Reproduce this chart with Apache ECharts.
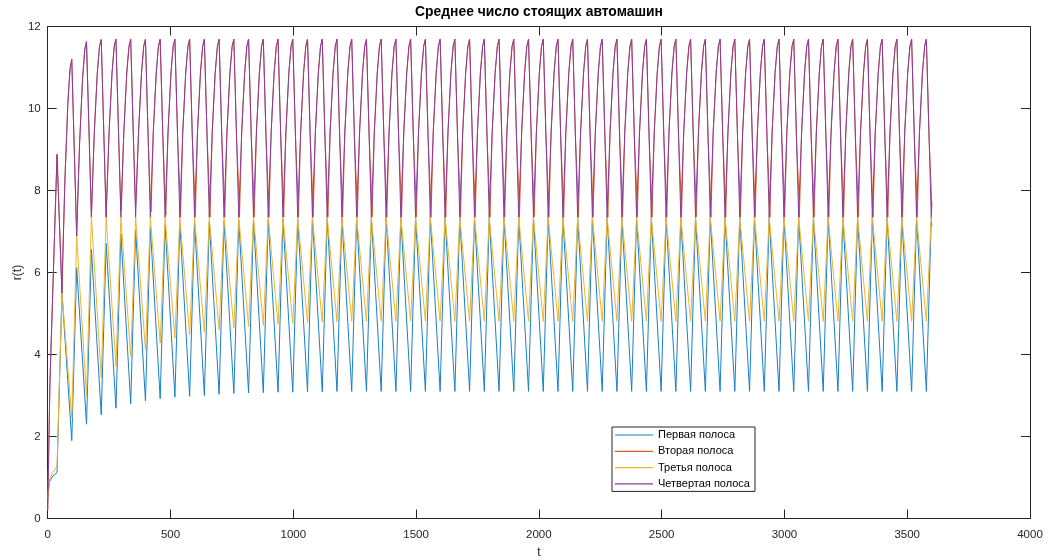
<!DOCTYPE html>
<html>
<head>
<meta charset="utf-8">
<script src="https://cdn.jsdelivr.net/npm/echarts@6/dist/echarts.min.js"></script>
<style>
html,body{margin:0;padding:0;background:#fff;}
#chart{width:1054px;height:560px;}
</style>
</head>
<body>
<div id="chart"></div>
<script>
// ---- Data ----
const chartTitle = 'Среднее число стоящих автомашин';
const seriesNames = ['Первая полоса', 'Вторая полоса', 'Третья полоса', 'Четвертая полоса'];
const xTicks = [0, 500, 1000, 1500, 2000, 2500, 3000, 3500, 4000];
const yTicks = [0, 2, 4, 6, 8, 10, 12];

// vertex times for lanes 1 and 3 (signal switch points)
const laneTimes = [0, 8, 20,
  38, 58, 98, 118, 158, 178, 218, 238, 278, 298, 338, 358, 398, 418, 458, 478, 518, 538, 578, 598,
  638, 658, 698, 718, 758, 778, 818, 838, 878, 898, 938, 958, 998, 1018, 1058, 1078, 1118, 1138, 1178, 1198,
  1238, 1258, 1298, 1318, 1358, 1378, 1418, 1438, 1478, 1498, 1538, 1558, 1598, 1618, 1658, 1678, 1718, 1738, 1778, 1798,
  1838, 1858, 1898, 1918, 1958, 1978, 2018, 2038, 2078, 2098, 2138, 2158, 2198, 2218, 2258, 2278, 2318, 2338, 2378, 2398,
  2438, 2458, 2498, 2518, 2558, 2578, 2618, 2638, 2678, 2698, 2738, 2758, 2798, 2818, 2858, 2878, 2918, 2938, 2978, 2998,
  3038, 3058, 3098, 3118, 3158, 3178, 3218, 3238, 3278, 3298, 3338, 3358, 3398, 3418, 3458, 3478, 3518, 3538, 3578, 3598,
  3600];

const lane1 = [0.50, 0.90, 1.03,
  1.12, 5.50, 1.90, 6.12, 2.30, 6.56, 2.53, 6.71, 2.69, 6.94, 2.80, 7.03, 2.87, 7.09, 2.92, 7.16, 2.96, 7.20, 2.98, 7.21,
  3.00, 7.23, 3.03, 7.25, 3.05, 7.27, 3.06, 7.28, 3.07, 7.29, 3.08, 7.30, 3.08, 7.31, 3.09, 7.32, 3.09, 7.32, 3.10, 7.33,
  3.10, 7.34, 3.10, 7.34, 3.10, 7.34, 3.10, 7.34, 3.10, 7.34, 3.10, 7.34, 3.10, 7.34, 3.10, 7.34, 3.10, 7.34, 3.10, 7.34,
  3.10, 7.34, 3.10, 7.34, 3.10, 7.34, 3.10, 7.34, 3.10, 7.34, 3.10, 7.34, 3.10, 7.34, 3.10, 7.34, 3.10, 7.34, 3.10, 7.34,
  3.10, 7.34, 3.10, 7.34, 3.10, 7.34, 3.10, 7.34, 3.10, 7.34, 3.10, 7.34, 3.10, 7.34, 3.10, 7.34, 3.10, 7.34, 3.10, 7.34,
  3.10, 7.34, 3.10, 7.34, 3.10, 7.34, 3.10, 7.34, 3.10, 7.34, 3.10, 7.34, 3.10, 7.34, 3.10, 7.34, 3.10, 7.34, 3.10, 7.34,
  7.13];

const lane3 = [0.50, 0.95, 1.12,
  1.28, 5.52, 2.45, 6.89, 2.98, 7.36, 3.43, 7.35, 3.71, 7.35, 3.95, 7.35, 4.12, 7.35, 4.28, 7.35, 4.40, 7.35, 4.48, 7.35,
  4.54, 7.35, 4.60, 7.35, 4.64, 7.35, 4.68, 7.35, 4.71, 7.35, 4.74, 7.35, 4.76, 7.35, 4.78, 7.35, 4.79, 7.35, 4.80, 7.35,
  4.81, 7.35, 4.81, 7.35, 4.81, 7.35, 4.81, 7.35, 4.81, 7.35, 4.81, 7.35, 4.81, 7.35, 4.81, 7.35, 4.81, 7.35, 4.81, 7.35,
  4.81, 7.35, 4.81, 7.35, 4.81, 7.35, 4.81, 7.35, 4.81, 7.35, 4.81, 7.35, 4.81, 7.35, 4.81, 7.35, 4.81, 7.35, 4.81, 7.35,
  4.81, 7.35, 4.81, 7.35, 4.81, 7.35, 4.81, 7.35, 4.81, 7.35, 4.81, 7.35, 4.81, 7.35, 4.81, 7.35, 4.81, 7.35, 4.81, 7.35,
  4.81, 7.35, 4.81, 7.35, 4.81, 7.35, 4.81, 7.35, 4.81, 7.35, 4.81, 7.35, 4.81, 7.35, 4.81, 7.35, 4.81, 7.35, 4.81, 7.35,
  7.22];

// vertex times for lanes 2 and 4 (descent point, trough, points along the rounded rise, peak)
const queueTimes = [0, 9, 26, 38,
  /*k0*/ 49, 58, 61, 70, 82, 91, 98,
  /*k1*/ 109, 118, 121, 130, 142, 151, 158,
  /*k2*/ 169, 178, 181, 190, 202, 211, 218,
  /*k3*/ 229, 238, 241, 250, 262, 271, 278,
  /*k4*/ 289, 298, 301, 310, 322, 331, 338,
  /*k5*/ 349, 358, 361, 370, 382, 391, 398,
  /*k6*/ 409, 418, 421, 430, 442, 451, 458,
  /*k7*/ 469, 478, 481, 490, 502, 511, 518,
  /*k8*/ 529, 538, 541, 550, 562, 571, 578,
  /*k9*/ 589, 598, 601, 610, 622, 631, 638,
  /*k10*/ 649, 658, 661, 670, 682, 691, 698,
  /*k11*/ 709, 718, 721, 730, 742, 751, 758,
  /*k12*/ 769, 778, 781, 790, 802, 811, 818,
  /*k13*/ 829, 838, 841, 850, 862, 871, 878,
  /*k14*/ 889, 898, 901, 910, 922, 931, 938,
  /*k15*/ 949, 958, 961, 970, 982, 991, 998,
  /*k16*/ 1009, 1018, 1021, 1030, 1042, 1051, 1058,
  /*k17*/ 1069, 1078, 1081, 1090, 1102, 1111, 1118,
  /*k18*/ 1129, 1138, 1141, 1150, 1162, 1171, 1178,
  /*k19*/ 1189, 1198, 1201, 1210, 1222, 1231, 1238,
  /*k20*/ 1249, 1258, 1261, 1270, 1282, 1291, 1298,
  /*k21*/ 1309, 1318, 1321, 1330, 1342, 1351, 1358,
  /*k22*/ 1369, 1378, 1381, 1390, 1402, 1411, 1418,
  /*k23*/ 1429, 1438, 1441, 1450, 1462, 1471, 1478,
  /*k24*/ 1489, 1498, 1501, 1510, 1522, 1531, 1538,
  /*k25*/ 1549, 1558, 1561, 1570, 1582, 1591, 1598,
  /*k26*/ 1609, 1618, 1621, 1630, 1642, 1651, 1658,
  /*k27*/ 1669, 1678, 1681, 1690, 1702, 1711, 1718,
  /*k28*/ 1729, 1738, 1741, 1750, 1762, 1771, 1778,
  /*k29*/ 1789, 1798, 1801, 1810, 1822, 1831, 1838,
  /*k30*/ 1849, 1858, 1861, 1870, 1882, 1891, 1898,
  /*k31*/ 1909, 1918, 1921, 1930, 1942, 1951, 1958,
  /*k32*/ 1969, 1978, 1981, 1990, 2002, 2011, 2018,
  /*k33*/ 2029, 2038, 2041, 2050, 2062, 2071, 2078,
  /*k34*/ 2089, 2098, 2101, 2110, 2122, 2131, 2138,
  /*k35*/ 2149, 2158, 2161, 2170, 2182, 2191, 2198,
  /*k36*/ 2209, 2218, 2221, 2230, 2242, 2251, 2258,
  /*k37*/ 2269, 2278, 2281, 2290, 2302, 2311, 2318,
  /*k38*/ 2329, 2338, 2341, 2350, 2362, 2371, 2378,
  /*k39*/ 2389, 2398, 2401, 2410, 2422, 2431, 2438,
  /*k40*/ 2449, 2458, 2461, 2470, 2482, 2491, 2498,
  /*k41*/ 2509, 2518, 2521, 2530, 2542, 2551, 2558,
  /*k42*/ 2569, 2578, 2581, 2590, 2602, 2611, 2618,
  /*k43*/ 2629, 2638, 2641, 2650, 2662, 2671, 2678,
  /*k44*/ 2689, 2698, 2701, 2710, 2722, 2731, 2738,
  /*k45*/ 2749, 2758, 2761, 2770, 2782, 2791, 2798,
  /*k46*/ 2809, 2818, 2821, 2830, 2842, 2851, 2858,
  /*k47*/ 2869, 2878, 2881, 2890, 2902, 2911, 2918,
  /*k48*/ 2929, 2938, 2941, 2950, 2962, 2971, 2978,
  /*k49*/ 2989, 2998, 3001, 3010, 3022, 3031, 3038,
  /*k50*/ 3049, 3058, 3061, 3070, 3082, 3091, 3098,
  /*k51*/ 3109, 3118, 3121, 3130, 3142, 3151, 3158,
  /*k52*/ 3169, 3178, 3181, 3190, 3202, 3211, 3218,
  /*k53*/ 3229, 3238, 3241, 3250, 3262, 3271, 3278,
  /*k54*/ 3289, 3298, 3301, 3310, 3322, 3331, 3338,
  /*k55*/ 3349, 3358, 3361, 3370, 3382, 3391, 3398,
  /*k56*/ 3409, 3418, 3421, 3430, 3442, 3451, 3458,
  /*k57*/ 3469, 3478, 3481, 3490, 3502, 3511, 3518,
  /*k58*/ 3529, 3538, 3541, 3550, 3562, 3571, 3578,
  /*k59*/ 3589, 3598, 3600];

const lane4 = [0.20, 3.30, 6.56, 8.88,
  /*k0*/ 7.02, 5.50, 6.24, 8.24, 10.12, 10.97, 11.20,
  /*k1*/ 8.83, 6.89, 7.51, 9.17, 10.73, 11.44, 11.63,
  /*k2*/ 9.28, 7.36, 7.92, 9.44, 10.87, 11.52, 11.68,
  /*k3*/ 9.30, 7.35, 7.91, 9.43, 10.87, 11.52, 11.69,
  /*k4*/ 9.30, 7.35, 7.91, 9.43, 10.87, 11.52, 11.69,
  /*k5*/ 9.30, 7.35, 7.91, 9.43, 10.87, 11.52, 11.69,
  /*k6*/ 9.30, 7.35, 7.91, 9.43, 10.87, 11.52, 11.69,
  /*k7*/ 9.30, 7.35, 7.91, 9.43, 10.87, 11.52, 11.69,
  /*k8*/ 9.30, 7.35, 7.91, 9.43, 10.87, 11.52, 11.69,
  /*k9*/ 9.30, 7.35, 7.91, 9.43, 10.87, 11.52, 11.69,
  /*k10*/ 9.30, 7.35, 7.91, 9.43, 10.87, 11.52, 11.69,
  /*k11*/ 9.30, 7.35, 7.91, 9.43, 10.87, 11.52, 11.69,
  /*k12*/ 9.30, 7.35, 7.91, 9.43, 10.87, 11.52, 11.69,
  /*k13*/ 9.30, 7.35, 7.91, 9.43, 10.87, 11.52, 11.69,
  /*k14*/ 9.30, 7.35, 7.91, 9.43, 10.87, 11.52, 11.69,
  /*k15*/ 9.30, 7.35, 7.91, 9.43, 10.87, 11.52, 11.69,
  /*k16*/ 9.30, 7.35, 7.91, 9.43, 10.87, 11.52, 11.69,
  /*k17*/ 9.30, 7.35, 7.91, 9.43, 10.87, 11.52, 11.69,
  /*k18*/ 9.30, 7.35, 7.91, 9.43, 10.87, 11.52, 11.69,
  /*k19*/ 9.30, 7.35, 7.91, 9.43, 10.87, 11.52, 11.69,
  /*k20*/ 9.30, 7.35, 7.91, 9.43, 10.87, 11.52, 11.69,
  /*k21*/ 9.30, 7.35, 7.91, 9.43, 10.87, 11.52, 11.69,
  /*k22*/ 9.30, 7.35, 7.91, 9.43, 10.87, 11.52, 11.69,
  /*k23*/ 9.30, 7.35, 7.91, 9.43, 10.87, 11.52, 11.69,
  /*k24*/ 9.30, 7.35, 7.91, 9.43, 10.87, 11.52, 11.69,
  /*k25*/ 9.30, 7.35, 7.91, 9.43, 10.87, 11.52, 11.69,
  /*k26*/ 9.30, 7.35, 7.91, 9.43, 10.87, 11.52, 11.69,
  /*k27*/ 9.30, 7.35, 7.91, 9.43, 10.87, 11.52, 11.69,
  /*k28*/ 9.30, 7.35, 7.91, 9.43, 10.87, 11.52, 11.69,
  /*k29*/ 9.30, 7.35, 7.91, 9.43, 10.87, 11.52, 11.69,
  /*k30*/ 9.30, 7.35, 7.91, 9.43, 10.87, 11.52, 11.69,
  /*k31*/ 9.30, 7.35, 7.91, 9.43, 10.87, 11.52, 11.69,
  /*k32*/ 9.30, 7.35, 7.91, 9.43, 10.87, 11.52, 11.69,
  /*k33*/ 9.30, 7.35, 7.91, 9.43, 10.87, 11.52, 11.69,
  /*k34*/ 9.30, 7.35, 7.91, 9.43, 10.87, 11.52, 11.69,
  /*k35*/ 9.30, 7.35, 7.91, 9.43, 10.87, 11.52, 11.69,
  /*k36*/ 9.30, 7.35, 7.91, 9.43, 10.87, 11.52, 11.69,
  /*k37*/ 9.30, 7.35, 7.91, 9.43, 10.87, 11.52, 11.69,
  /*k38*/ 9.30, 7.35, 7.91, 9.43, 10.87, 11.52, 11.69,
  /*k39*/ 9.30, 7.35, 7.91, 9.43, 10.87, 11.52, 11.69,
  /*k40*/ 9.30, 7.35, 7.91, 9.43, 10.87, 11.52, 11.69,
  /*k41*/ 9.30, 7.35, 7.91, 9.43, 10.87, 11.52, 11.69,
  /*k42*/ 9.30, 7.35, 7.91, 9.43, 10.87, 11.52, 11.69,
  /*k43*/ 9.30, 7.35, 7.91, 9.43, 10.87, 11.52, 11.69,
  /*k44*/ 9.30, 7.35, 7.91, 9.43, 10.87, 11.52, 11.69,
  /*k45*/ 9.30, 7.35, 7.91, 9.43, 10.87, 11.52, 11.69,
  /*k46*/ 9.30, 7.35, 7.91, 9.43, 10.87, 11.52, 11.69,
  /*k47*/ 9.30, 7.35, 7.91, 9.43, 10.87, 11.52, 11.69,
  /*k48*/ 9.30, 7.35, 7.91, 9.43, 10.87, 11.52, 11.69,
  /*k49*/ 9.30, 7.35, 7.91, 9.43, 10.87, 11.52, 11.69,
  /*k50*/ 9.30, 7.35, 7.91, 9.43, 10.87, 11.52, 11.69,
  /*k51*/ 9.30, 7.35, 7.91, 9.43, 10.87, 11.52, 11.69,
  /*k52*/ 9.30, 7.35, 7.91, 9.43, 10.87, 11.52, 11.69,
  /*k53*/ 9.30, 7.35, 7.91, 9.43, 10.87, 11.52, 11.69,
  /*k54*/ 9.30, 7.35, 7.91, 9.43, 10.87, 11.52, 11.69,
  /*k55*/ 9.30, 7.35, 7.91, 9.43, 10.87, 11.52, 11.69,
  /*k56*/ 9.30, 7.35, 7.91, 9.43, 10.87, 11.52, 11.69,
  /*k57*/ 9.30, 7.35, 7.91, 9.43, 10.87, 11.52, 11.69,
  /*k58*/ 9.30, 7.35, 7.91, 9.43, 10.87, 11.52, 11.69,
  /*k59*/ 9.30, 7.35, 7.74];

const lane2 = [0.20, 3.30, 6.56, 8.88,
  /*k0*/ 7.02, 5.50, 6.24, 8.24, 10.12, 10.97, 11.20,
  /*k1*/ 8.83, 6.89, 7.51, 9.17, 10.73, 11.44, 11.63,
  /*k2*/ 9.28, 7.36, 7.92, 9.44, 10.87, 11.52, 11.68,
  /*k3*/ 9.30, 7.35, 7.91, 9.43, 10.87, 11.52, 11.69,
  /*k4*/ 9.30, 7.50, 7.75, 9.43, 10.87, 11.52, 11.69,
  /*k5*/ 9.30, 7.62, 7.60, 9.43, 10.87, 11.52, 11.69,
  /*k6*/ 9.30, 7.75, 7.48, 9.43, 10.87, 11.52, 11.69,
  /*k7*/ 9.30, 7.88, 7.40, 9.43, 10.87, 11.52, 11.69,
  /*k8*/ 9.30, 8.00, 7.35, 9.43, 10.87, 11.52, 11.69,
  /*k9*/ 9.30, 8.00, 7.35, 9.43, 10.87, 11.52, 11.69,
  /*k10*/ 9.30, 8.00, 7.35, 9.43, 10.87, 11.52, 11.69,
  /*k11*/ 9.30, 8.00, 7.35, 9.43, 10.87, 11.52, 11.69,
  /*k12*/ 9.30, 8.00, 7.35, 9.43, 10.87, 11.52, 11.69,
  /*k13*/ 9.30, 8.00, 7.35, 9.43, 10.87, 11.52, 11.69,
  /*k14*/ 9.30, 8.00, 7.35, 9.43, 10.87, 11.52, 11.69,
  /*k15*/ 9.30, 8.00, 7.35, 9.43, 10.87, 11.52, 11.69,
  /*k16*/ 9.30, 8.00, 7.35, 9.43, 10.87, 11.52, 11.69,
  /*k17*/ 9.30, 8.00, 7.35, 9.43, 10.87, 11.52, 11.69,
  /*k18*/ 9.30, 8.00, 7.35, 9.43, 10.87, 11.52, 11.69,
  /*k19*/ 9.30, 8.00, 7.35, 9.43, 10.87, 11.52, 11.69,
  /*k20*/ 9.30, 8.00, 7.35, 9.43, 10.87, 11.52, 11.69,
  /*k21*/ 9.30, 8.00, 7.35, 9.43, 10.87, 11.52, 11.69,
  /*k22*/ 9.30, 8.00, 7.35, 9.43, 10.87, 11.52, 11.69,
  /*k23*/ 9.30, 8.00, 7.35, 9.43, 10.87, 11.52, 11.69,
  /*k24*/ 9.30, 8.00, 7.35, 9.43, 10.87, 11.52, 11.69,
  /*k25*/ 9.30, 8.00, 7.35, 9.43, 10.87, 11.52, 11.69,
  /*k26*/ 9.30, 8.00, 7.35, 9.43, 10.87, 11.52, 11.69,
  /*k27*/ 9.30, 8.00, 7.35, 9.43, 10.87, 11.52, 11.69,
  /*k28*/ 9.30, 8.00, 7.35, 9.43, 10.87, 11.52, 11.69,
  /*k29*/ 9.30, 8.00, 7.35, 9.43, 10.87, 11.52, 11.69,
  /*k30*/ 9.30, 8.00, 7.35, 9.43, 10.87, 11.52, 11.69,
  /*k31*/ 9.30, 8.00, 7.35, 9.43, 10.87, 11.52, 11.69,
  /*k32*/ 9.30, 8.00, 7.35, 9.43, 10.87, 11.52, 11.69,
  /*k33*/ 9.30, 8.00, 7.35, 9.43, 10.87, 11.52, 11.69,
  /*k34*/ 9.30, 8.00, 7.35, 9.43, 10.87, 11.52, 11.69,
  /*k35*/ 9.30, 8.00, 7.35, 9.43, 10.87, 11.52, 11.69,
  /*k36*/ 9.30, 8.00, 7.35, 9.43, 10.87, 11.52, 11.69,
  /*k37*/ 9.30, 8.00, 7.35, 9.43, 10.87, 11.52, 11.69,
  /*k38*/ 9.30, 8.00, 7.35, 9.43, 10.87, 11.52, 11.69,
  /*k39*/ 9.30, 8.00, 7.35, 9.43, 10.87, 11.52, 11.69,
  /*k40*/ 9.30, 8.00, 7.35, 9.43, 10.87, 11.52, 11.69,
  /*k41*/ 9.30, 8.00, 7.35, 9.43, 10.87, 11.52, 11.69,
  /*k42*/ 9.30, 8.00, 7.35, 9.43, 10.87, 11.52, 11.69,
  /*k43*/ 9.30, 8.00, 7.35, 9.43, 10.87, 11.52, 11.69,
  /*k44*/ 9.30, 8.00, 7.35, 9.43, 10.87, 11.52, 11.69,
  /*k45*/ 9.30, 8.00, 7.35, 9.43, 10.87, 11.52, 11.69,
  /*k46*/ 9.30, 8.00, 7.35, 9.43, 10.87, 11.52, 11.69,
  /*k47*/ 9.30, 8.00, 7.35, 9.43, 10.87, 11.52, 11.69,
  /*k48*/ 9.30, 8.00, 7.35, 9.43, 10.87, 11.52, 11.69,
  /*k49*/ 9.30, 8.00, 7.35, 9.43, 10.87, 11.52, 11.69,
  /*k50*/ 9.30, 8.00, 7.35, 9.43, 10.87, 11.52, 11.69,
  /*k51*/ 9.30, 8.00, 7.35, 9.43, 10.87, 11.52, 11.69,
  /*k52*/ 9.30, 8.00, 7.35, 9.43, 10.87, 11.52, 11.69,
  /*k53*/ 9.30, 8.00, 7.35, 9.43, 10.87, 11.52, 11.69,
  /*k54*/ 9.30, 8.00, 7.35, 9.43, 10.87, 11.52, 11.69,
  /*k55*/ 9.30, 8.00, 7.35, 9.43, 10.87, 11.52, 11.69,
  /*k56*/ 9.30, 8.00, 7.35, 9.43, 10.87, 11.52, 11.69,
  /*k57*/ 9.30, 8.00, 7.35, 9.43, 10.87, 11.52, 11.69,
  /*k58*/ 9.30, 8.00, 7.35, 9.43, 10.87, 11.52, 11.69,
  /*k59*/ 9.30, 8.00, 7.55];

// ---- Chart ----
const seriesColors = ['#1a7fc6', '#dc6128', '#eeb62f', '#8a3c9b'];
const FONT = '"Liberation Sans", Arial, Helvetica, sans-serif';
const AX = '#262626';

function pairs(ts, vs) { return ts.map((t, i) => [t, vs[i]]); }

const seriesData = [pairs(laneTimes, lane1), pairs(queueTimes, lane2), pairs(laneTimes, lane3), pairs(queueTimes, lane4)];

const chart = echarts.init(document.getElementById('chart'), null, {renderer: 'canvas'});

const xMin = xTicks[0], xMax = xTicks[xTicks.length - 1], xStep = xTicks[1] - xTicks[0];
const yMin = yTicks[0], yMax = yTicks[yTicks.length - 1], yStep = yTicks[1] - yTicks[0];

function axisBase(showLabel, margin) {
  return {
    axisLine: {show: true, onZero: false, lineStyle: {color: AX, width: 1}},
    axisTick: {show: true, inside: true, length: 9, lineStyle: {color: AX, width: 1}},
    splitLine: {show: false},
    axisLabel: {show: showLabel, color: AX, fontFamily: FONT, fontSize: 11.5, margin: margin,
      formatter: v => String(v)}
  };
}

chart.setOption({
  animation: false,
  backgroundColor: '#ffffff',
  color: seriesColors,
  grid: {left: 47.7, right: 24, top: 26.5, bottom: 41.5, containLabel: false, outerBoundsMode: 'none'},
  graphic: [{
    type: 'text',
    x: 539, y: 5,
    style: {text: chartTitle, font: 'bold 13.9px ' + FONT, fill: '#000', textAlign: 'center', textVerticalAlign: 'top'}
  }],
  legend: {
    show: true,
    orient: 'vertical',
    left: 612, top: 427,
    padding: [1.5, 5, 1, 3],
    icon: 'rect',
    itemWidth: 38, itemHeight: 1.2, itemGap: 3.3,
    selectedMode: false,
    backgroundColor: '#fff',
    borderColor: AX, borderWidth: 1, borderRadius: 0,
    textStyle: {fontFamily: FONT, fontSize: 11, color: '#000', lineHeight: 13},
    data: seriesNames.slice()
  },
  xAxis: [
    Object.assign({type: 'value', min: xMin, max: xMax, interval: xStep, position: 'bottom',
      name: 't', nameLocation: 'middle', nameGap: 28,
      nameTextStyle: {fontFamily: FONT, fontSize: 12, color: AX}}, axisBase(true, 10)),
    Object.assign({type: 'value', min: xMin, max: xMax, interval: xStep, position: 'top'}, axisBase(false, 8))
  ],
  yAxis: [
    Object.assign({type: 'value', min: yMin, max: yMax, interval: yStep, position: 'left',
      name: 'r(t)', nameLocation: 'middle', nameGap: 24, nameRotate: 90, nameMoveOverlap: false,
      nameTextStyle: {fontFamily: FONT, fontSize: 12, color: AX}}, axisBase(true, 7)),
    Object.assign({type: 'value', min: yMin, max: yMax, interval: yStep, position: 'right'}, axisBase(false, 7))
  ],
  series: seriesNames.map((n, i) => ({
    name: n, type: 'line', data: seriesData[i],
    xAxisIndex: 0, yAxisIndex: 0,
    symbol: 'none', showSymbol: false, smooth: false,
    lineStyle: {width: 1, color: seriesColors[i]},
    itemStyle: {color: seriesColors[i]},
    emphasis: {disabled: true},
    z: 2 + i
  }))
});
</script>
</body>
</html>
